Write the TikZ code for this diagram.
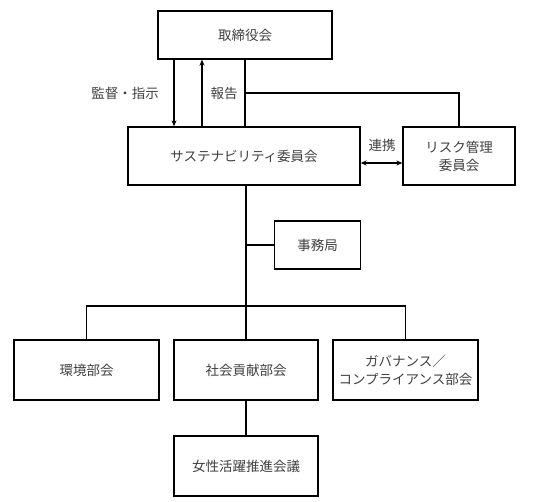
\documentclass[tikz,border=0pt]{standalone}
\usepackage{fontspec}
\setmainfont{Noto Sans CJK JP}
\usetikzlibrary{arrows.meta}
\definecolor{txt}{HTML}{404040}
\tikzset{
  box/.style={draw=black, line width=1.3pt, fill=white, text=txt, font=\fontsize{13.5}{18}\selectfont, align=center, inner sep=0pt},
  conn/.style={draw=black, line width=1.3pt},
  arr/.style={conn, -{Stealth[length=6pt,width=5pt]}},
  darr/.style={conn, {Stealth[length=6pt,width=5pt]}-{Stealth[length=6pt,width=5pt]}},
  lbl/.style={text=txt, font=\fontsize{13.5}{18}\selectfont, inner sep=1pt}
}
\begin{document}
\begin{tikzpicture}[x=1pt,y=-1pt]
\useasboundingbox (0,0) rectangle (534,501);
\node[box, minimum width=174pt, minimum height=48pt] (top) at (245,35) {取締役会};
\node[box, minimum width=232pt, minimum height=58pt] (sus) at (244,156) {サステナビリティ委員会};
\node[box, minimum width=112pt, minimum height=58pt] (risk) at (459,156) {リスク管理\\委員会};
\node[box, minimum width=86pt, minimum height=48pt] (jimu) at (317.5,245) {事務局};
\node[box, minimum width=145pt, minimum height=60pt] (env) at (86.5,370) {環境部会};
\node[box, minimum width=144pt, minimum height=60pt] (soc) at (246,370) {社会貢献部会};
\node[box, minimum width=145pt, minimum height=60pt] (gov) at (405.5,370) {ガバナンス／\\コンプライアンス部会};
\node[box, minimum width=144pt, minimum height=60pt] (wom) at (246,466) {女性活躍推進会議};

\coordinate (dn) at (174,0);
\coordinate (up) at (202,0);
\coordinate (rep) at (245,93);
\coordinate (bus) at (246,306);

\draw[arr] (top.south -| dn) -- (sus.north -| dn);
\draw[arr] (sus.north -| up) -- (top.south -| up);
\draw[conn] (top.south -| rep) -- (sus.north -| rep);
\draw[conn] (rep) -| (risk.north);
\draw[darr] (sus.east |- 0,163) -- (risk.west |- 0,163);
\draw[conn] (sus.south -| bus) -- (soc.north);
\draw[conn] (jimu.west) -- (jimu.west -| bus);
\draw[conn] (env.north) |- (bus) -| (gov.north);
\draw[conn] (soc.south) -- (wom.north);

\node[lbl] (l1) at (125,93) {監督・指示};
\node[lbl] (l2) at (224,93) {報告};
\node[lbl] (l3) at (382,145) {連携};
\end{tikzpicture}
\end{document}
